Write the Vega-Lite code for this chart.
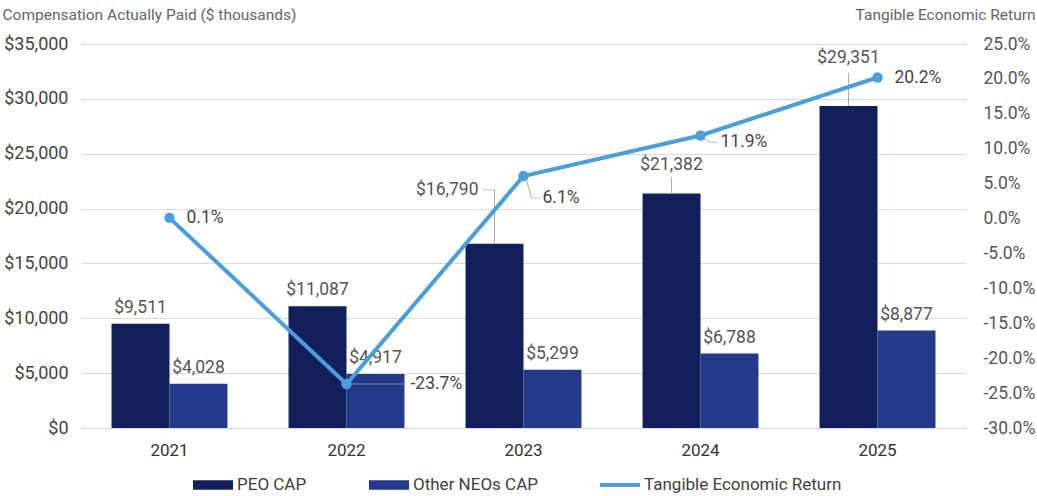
{
  "$schema": "https://vega.github.io/schema/vega-lite/v6.json",
  "width": 885,
  "height": 384,
  "autosize": "none",
  "padding": {"left": 81, "top": 44, "right": 71, "bottom": 68},
  "background": "white",
  "config": {
    "font": "Roboto",
    "view": {"stroke": null},
    "locale": {
      "number": {"decimal": ".", "thousands": ",", "grouping": [3], "currency": ["$", ""], "minus": "-"}
    },
    "axis": {"ticks": false, "domain": false, "labelFontSize": 17.5, "labelColor": "#444", "titleFont": "Roboto"},
    "text": {"font": "Roboto", "fontSize": 17.5}
  },
  "datasets": {
    "cap": [
      {"year": "2021", "series": "PEO CAP", "value": 9511},
      {"year": "2021", "series": "Other NEOs CAP", "value": 4028},
      {"year": "2022", "series": "PEO CAP", "value": 11087},
      {"year": "2022", "series": "Other NEOs CAP", "value": 4917},
      {"year": "2023", "series": "PEO CAP", "value": 16790},
      {"year": "2023", "series": "Other NEOs CAP", "value": 5299},
      {"year": "2024", "series": "PEO CAP", "value": 21382},
      {"year": "2024", "series": "Other NEOs CAP", "value": 6788},
      {"year": "2025", "series": "PEO CAP", "value": 29351},
      {"year": "2025", "series": "Other NEOs CAP", "value": 8877}
    ],
    "ter": [
      {"year": "2021", "ter": 0.001},
      {"year": "2022", "ter": -0.237},
      {"year": "2023", "ter": 0.061},
      {"year": "2024", "ter": 0.119},
      {"year": "2025", "ter": 0.202}
    ]
  },
  "encoding": {
    "x": {
      "field": "year",
      "type": "nominal",
      "sort": null,
      "scale": {"paddingInner": 0.345, "paddingOuter": 0.1725},
      "axis": {"title": null, "labelAngle": 0, "labelFontSize": 17, "labelColor": "#333", "labelPadding": 14, "grid": false}
    }
  },
  "layer": [
    {
      "data": {"name": "cap"},
      "encoding": {
        "y": {
          "field": "value",
          "type": "quantitative",
          "stack": null,
          "scale": {"domain": [0, 35000]},
          "axis": {
            "orient": "left",
            "format": "$,.0f",
            "values": [0, 5000, 10000, 15000, 20000, 25000, 30000, 35000],
            "grid": true,
            "gridColor": "#d9d9d9",
            "labelPadding": 13,
            "labelFontSize": 18,
            "title": "Compensation Actually Paid ($ thousands)",
            "titleAngle": 0,
            "titleAlign": "left",
            "titleBaseline": "middle",
            "titleX": -79,
            "titleY": -30,
            "titleFontSize": 15.5,
            "titleFontWeight": "normal",
            "titleColor": "#666"
          }
        }
      },
      "layer": [
        {
          "mark": {"type": "bar"},
          "encoding": {
            "xOffset": {"field": "series", "sort": ["PEO CAP", "Other NEOs CAP"], "scale": {"paddingInner": 0, "paddingOuter": 0}},
            "color": {
              "field": "series",
              "type": "nominal",
              "scale": {
                "domain": ["PEO CAP", "Other NEOs CAP", "Tangible Economic Return"],
                "range": ["#131f5b", "#25398a", "#4b9ed8"]
              },
              "legend": {
                "title": null,
                "orient": "none",
                "legendX": 112,
                "legendY": 421,
                "direction": "horizontal",
                "symbolType": "M-1,-0.24H1V0.24H-1Z",
                "symbolSize": 1600,
                "symbolStrokeWidth": 0,
                "labelFontSize": 17,
                "labelColor": "#404040",
                "labelLimit": 400,
                "columnPadding": 62,
                "labelOffset": 4,
                "encode": {
                  "symbols": {
                    "update": {
                      "shape": {"signal": "datum.value === 'Tangible Economic Return' ? 'M-1,-0.1H1V0.1H-1Z' : 'M-1,-0.24H1V0.24H-1Z'"},
                      "fill": {"scale": "color", "field": "value"},
                      "strokeWidth": {"value": 0},
                      "opacity": {"value": 1}
                    }
                  }
                }
              }
            }
          }
        },
        {
          "transform": [{"filter": "!(datum.series === 'PEO CAP' && datum.year >= '2023')"}],
          "mark": {"type": "text", "dy": -16, "color": "#555"},
          "encoding": {
            "xOffset": {"field": "series", "sort": ["PEO CAP", "Other NEOs CAP"]},
            "text": {"field": "value", "format": "$,.0f"}
          }
        },
        {
          "transform": [{"filter": "datum.series === 'PEO CAP' && datum.year === '2023'"}],
          "mark": {"type": "text", "dy": -54, "xOffset": -45, "align": "right", "color": "#555"},
          "encoding": {"text": {"field": "value", "format": "$,.0f"}}
        },
        {
          "transform": [{"filter": "datum.series === 'PEO CAP' && datum.year === '2024'"}],
          "mark": {"type": "text", "dy": -28, "xOffset": -29, "color": "#555"},
          "encoding": {"text": {"field": "value", "format": "$,.0f"}}
        },
        {
          "transform": [{"filter": "datum.series === 'PEO CAP' && datum.year === '2025'"}],
          "mark": {"type": "text", "dy": -48, "xOffset": -29, "color": "#555"},
          "encoding": {"text": {"field": "value", "format": "$,.0f"}}
        },
        {
          "transform": [{"filter": "datum.series === 'PEO CAP' && datum.year === '2023'"}],
          "mark": {"type": "rule", "xOffset": -29, "y2Offset": -54, "color": "#aaa", "strokeWidth": 1},
          "encoding": {"y2": {"field": "value"}}
        },
        {
          "transform": [{"filter": "datum.series === 'PEO CAP' && datum.year === '2023'"}],
          "mark": {"type": "tick", "orient": "horizontal", "size": 12, "thickness": 1, "xOffset": -35, "yOffset": -54, "color": "#aaa"},
          "encoding": {}
        },
        {
          "transform": [{"filter": "datum.series === 'PEO CAP' && datum.year === '2024'"}],
          "mark": {"type": "rule", "xOffset": -29, "y2Offset": -16, "color": "#aaa", "strokeWidth": 1},
          "encoding": {"y2": {"field": "value"}}
        },
        {
          "transform": [{"filter": "datum.series === 'PEO CAP' && datum.year === '2025'"}],
          "mark": {"type": "rule", "xOffset": -29, "y2Offset": -33, "color": "#aaa", "strokeWidth": 1},
          "encoding": {"y2": {"field": "value"}}
        }
      ]
    },
    {
      "data": {"name": "ter"},
      "encoding": {
        "y": {
          "field": "ter",
          "type": "quantitative",
          "scale": {"domain": [-0.3, 0.25]},
          "axis": {
            "orient": "right",
            "format": ".1%",
            "values": [-0.3, -0.25, -0.2, -0.15, -0.1, -0.05, 0, 0.05, 0.1, 0.15, 0.2, 0.25],
            "grid": false,
            "labelPadding": 17,
            "labelColor": "#555",
            "title": "Tangible Economic Return",
            "titleAngle": 0,
            "titleAlign": "right",
            "titleBaseline": "middle",
            "titleX": 69,
            "titleY": -30,
            "titleFontSize": 15.5,
            "titleFontWeight": "normal",
            "titleColor": "#666"
          }
        }
      },
      "layer": [
        {
          "transform": [{"filter": "datum.year === '2022'"}],
          "mark": {"type": "tick", "orient": "horizontal", "size": 58, "thickness": 1, "xOffset": 30, "color": "#aaa"},
          "encoding": {}
        },
        {
          "transform": [{"filter": "datum.year === '2023'"}],
          "mark": {"type": "rule", "xOffset": 3, "yOffset": 4, "x2Offset": 8, "y2Offset": 22, "color": "#aaa", "strokeWidth": 1},
          "encoding": {"x2": {"field": "year", "bandPosition": 0.5}, "y2": {"field": "ter"}}
        },
        {
          "transform": [{"filter": "datum.year === '2023'"}],
          "mark": {"type": "tick", "orient": "horizontal", "size": 9, "thickness": 1, "xOffset": 12.5, "yOffset": 22, "color": "#aaa"},
          "encoding": {}
        },
        {
          "transform": [{"filter": "datum.year === '2024'"}],
          "mark": {"type": "rule", "xOffset": 3, "yOffset": 3, "x2Offset": 10, "y2Offset": 7, "color": "#aaa", "strokeWidth": 1},
          "encoding": {"x2": {"field": "year", "bandPosition": 0.5}, "y2": {"field": "ter"}}
        },
        {
          "transform": [{"filter": "datum.year === '2024'"}],
          "mark": {"type": "tick", "orient": "horizontal", "size": 7, "thickness": 1, "xOffset": 13.5, "yOffset": 7, "color": "#aaa"},
          "encoding": {}
        },
        {
          "mark": {"type": "line", "strokeWidth": 4, "point": {"filled": true, "size": 110, "opacity": 1}},
          "encoding": {"color": {"datum": "Tangible Economic Return"}}
        },
        {
          "transform": [{"filter": "datum.year === '2021' || datum.year === '2025'"}],
          "mark": {"type": "text", "align": "left", "dx": 17, "color": "#444"},
          "encoding": {"text": {"field": "ter", "format": ".1%"}}
        },
        {
          "transform": [{"filter": "datum.year === '2022'"}],
          "mark": {"type": "text", "align": "left", "dx": 64, "color": "#444"},
          "encoding": {"text": {"field": "ter", "format": ".1%"}}
        },
        {
          "transform": [{"filter": "datum.year === '2023'"}],
          "mark": {"type": "text", "align": "left", "dx": 19, "dy": 22, "color": "#444"},
          "encoding": {"text": {"field": "ter", "format": ".1%"}}
        },
        {
          "transform": [{"filter": "datum.year === '2024'"}],
          "mark": {"type": "text", "align": "left", "dx": 20, "dy": 7, "color": "#444"},
          "encoding": {"text": {"field": "ter", "format": ".1%"}}
        }
      ]
    }
  ],
  "resolve": {"scale": {"y": "independent"}}
}
